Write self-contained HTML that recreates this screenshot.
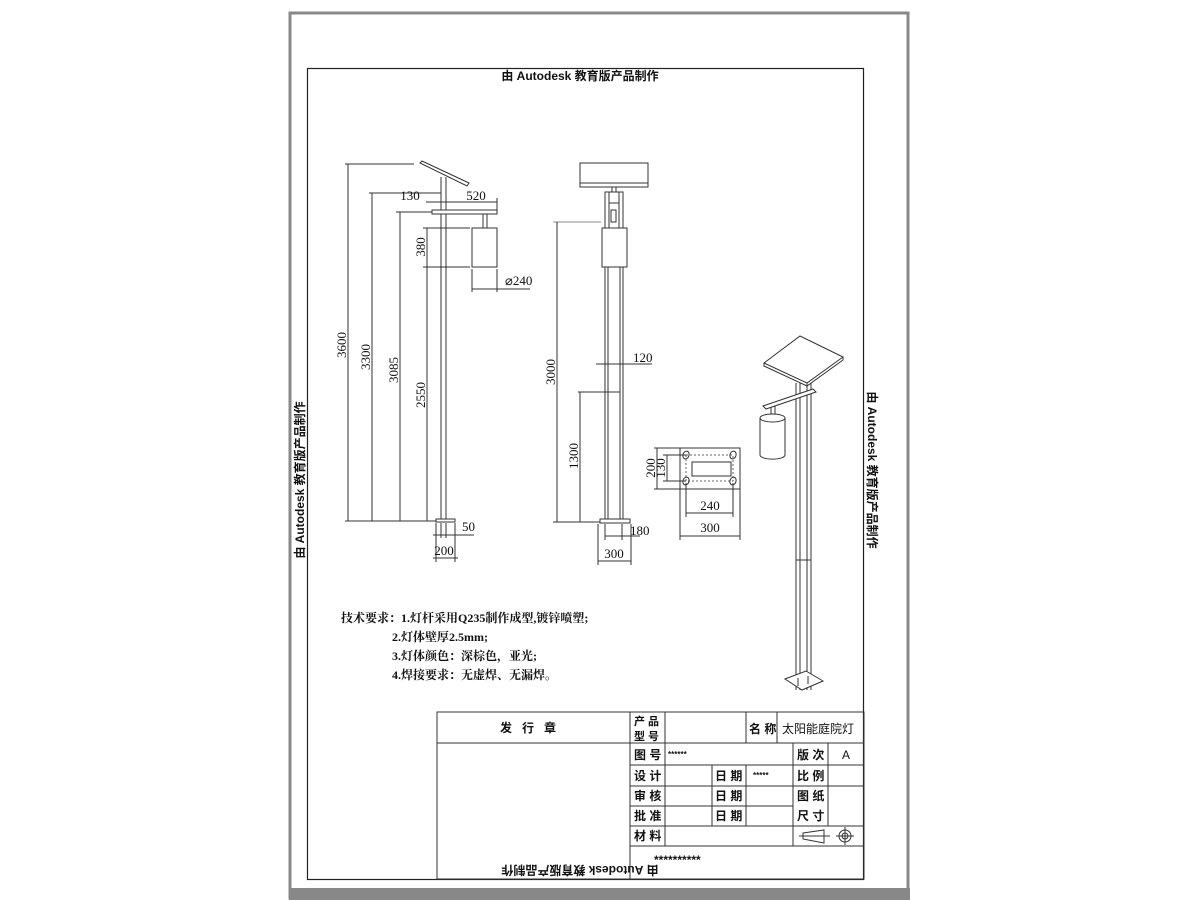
<!DOCTYPE html>
<html><head><meta charset="utf-8"><style>
html,body{margin:0;padding:0;background:#fff;}
svg{display:block;}
text{font-family:"Liberation Sans","Noto Sans CJK SC",sans-serif;fill:#111;}
.s text{font-family:"Liberation Serif","Noto Serif CJK SC",serif;}
</style></head><body>
<svg width="1200" height="900" viewBox="0 0 1200 900" xmlns="http://www.w3.org/2000/svg">
<rect width="1200" height="900" fill="#fff"/>
<rect x="290" y="13" width="618" height="885" fill="none" stroke="#888" stroke-width="3"/>
<rect x="289" y="888" width="621" height="12" fill="#888"/>
<rect x="307.5" y="68.5" width="556" height="811" fill="none" stroke="#222" stroke-width="1.2"/>
<text x="580" y="80" font-size="12" font-weight="bold" text-anchor="middle">由 Autodesk 教育版产品制作</text>
<text transform="translate(304,480) rotate(-90)" font-size="12" font-weight="bold" text-anchor="middle">由 Autodesk 教育版产品制作</text>
<text transform="translate(868,470) rotate(90)" font-size="12" font-weight="bold" text-anchor="middle">由 Autodesk 教育版产品制作</text>
<text transform="translate(580,866) rotate(180)" font-size="12" font-weight="bold" text-anchor="middle">由 Autodesk 教育版产品制作</text>

<g stroke="#333" stroke-width="1" fill="none">
<polygon points="420,163 422,161 469,183 467,186" fill="#fff"/>
<line x1="441" y1="177" x2="441" y2="519"/><line x1="446" y1="177" x2="446" y2="519"/>
<rect x="432" y="210" width="65" height="4" fill="#fff"/>
<line x1="483" y1="214" x2="483" y2="228"/><line x1="487" y1="214" x2="487" y2="228"/>
<rect x="472" y="228" width="25" height="39" fill="#fff"/>
<rect x="436" y="519" width="19" height="3" fill="#fff"/>
<line x1="345" y1="164" x2="414" y2="164"/>
<line x1="348" y1="164" x2="348" y2="521"/>
<line x1="369" y1="193" x2="441" y2="193"/>
<line x1="372" y1="193" x2="372" y2="521"/>
<line x1="396" y1="212" x2="432" y2="212"/>
<line x1="400" y1="212" x2="400" y2="521"/>
<line x1="423" y1="228" x2="470" y2="228"/>
<line x1="423" y1="267" x2="470" y2="267"/>
<line x1="427" y1="228" x2="427" y2="521"/>
<line x1="345" y1="521" x2="436" y2="521"/>
<line x1="426" y1="202" x2="497" y2="202"/>
<line x1="497" y1="198" x2="497" y2="210"/>
<line x1="472" y1="269" x2="472" y2="292"/><line x1="497" y1="269" x2="497" y2="292"/>
<line x1="472" y1="289" x2="530" y2="289"/>
<line x1="436" y1="523" x2="436" y2="562"/><line x1="455" y1="523" x2="455" y2="562"/>
<line x1="441" y1="523" x2="441" y2="538"/><line x1="446" y1="523" x2="446" y2="538"/>
<line x1="433" y1="535" x2="474" y2="535"/>
<line x1="433" y1="558" x2="458" y2="558"/>

<rect x="580" y="163" width="68" height="24" fill="#fff"/>
<line x1="580" y1="183" x2="648" y2="183"/>
<rect x="612" y="187" width="4" height="5"/>
<rect x="605" y="192" width="18" height="36"/>
<line x1="609" y1="192" x2="609" y2="228"/><line x1="619" y1="192" x2="619" y2="228"/>
<line x1="609" y1="203" x2="619" y2="203"/>
<rect x="611" y="210" width="5" height="12"/>
<rect x="602" y="228" width="25" height="39" fill="#fff"/>
<line x1="605" y1="267" x2="605" y2="519"/><line x1="608" y1="267" x2="608" y2="519"/>
<line x1="620" y1="267" x2="620" y2="519"/><line x1="623" y1="267" x2="623" y2="519"/>
<line x1="608" y1="392" x2="620" y2="392"/>
<rect x="600" y="519" width="30" height="4" fill="#fff"/>
<line x1="553" y1="222" x2="601" y2="222" stroke="#888"/>
<line x1="557" y1="222" x2="557" y2="522"/>
<line x1="553" y1="522" x2="600" y2="522"/>
<line x1="578" y1="392" x2="608" y2="392"/>
<line x1="580" y1="392" x2="580" y2="522"/>
<line x1="596" y1="364" x2="652" y2="364"/>
<line x1="598" y1="524" x2="598" y2="565"/><line x1="631" y1="524" x2="631" y2="565"/>
<line x1="605" y1="524" x2="605" y2="540"/><line x1="622" y1="524" x2="622" y2="540"/>
<line x1="605" y1="536" x2="640" y2="536"/>
<line x1="598" y1="561" x2="631" y2="561"/>
<rect x="680" y="448" width="60" height="41"/>
<rect x="692" y="462" width="39" height="14"/>
<rect x="686" y="455" width="47" height="26" stroke-dasharray="2,2" stroke="#666"/>
<ellipse cx="686" cy="455" rx="3" ry="4" transform="rotate(20 686 455)"/>
<ellipse cx="733" cy="455" rx="3" ry="4" transform="rotate(20 733 455)"/>
<ellipse cx="686" cy="481" rx="3" ry="4" transform="rotate(20 686 481)"/>
<ellipse cx="733" cy="481" rx="3" ry="4" transform="rotate(20 733 481)"/>
<line x1="654" y1="448" x2="680" y2="448"/><line x1="654" y1="489" x2="680" y2="489"/>
<line x1="657" y1="448" x2="657" y2="489"/>
<line x1="663" y1="455" x2="686" y2="455"/><line x1="663" y1="481" x2="686" y2="481"/>
<line x1="667" y1="455" x2="667" y2="481"/>
<line x1="686" y1="483" x2="686" y2="517"/><line x1="733" y1="483" x2="733" y2="517"/>
<line x1="686" y1="513" x2="733" y2="513"/>
<line x1="680" y1="489" x2="680" y2="540"/><line x1="740" y1="489" x2="740" y2="540"/>
<line x1="680" y1="536" x2="740" y2="536"/>

<line x1="796" y1="383" x2="796" y2="690"/><line x1="800" y1="383" x2="800" y2="690"/>
<line x1="807" y1="383" x2="807" y2="690"/><line x1="811" y1="383" x2="811" y2="690"/>
<line x1="796" y1="560" x2="811" y2="560"/>
<polygon points="763,406 813,389 816,392 766,409" fill="#fff"/>
<line x1="771" y1="407" x2="771" y2="418"/><line x1="775" y1="406" x2="775" y2="418"/>
<path d="M760,418 L760,455 A12,4 0 0 0 785,455 L785,418" fill="#fff"/>
<ellipse cx="772.5" cy="418" rx="12.5" ry="4" fill="#fff"/>
<polygon points="764,363 800,336 843,357 807,383" fill="#fff"/>
<polyline points="764,363 764,366 807,386 843,360 843,357"/>
<polygon points="785,679 806,671 823,681 802,690" fill="#fff"/>
<line x1="798" y1="678" x2="798" y2="686"/><line x1="808" y1="676" x2="808" y2="684"/>

<rect x="437" y="712" width="427" height="167"/>
<line x1="437" y1="743" x2="864" y2="743"/>
<line x1="630" y1="712" x2="630" y2="879"/>
<line x1="665" y1="712" x2="665" y2="846"/>
<line x1="746" y1="712" x2="746" y2="743"/>
<line x1="777" y1="712" x2="777" y2="743"/>
<line x1="630" y1="765" x2="864" y2="765"/>
<line x1="630" y1="786" x2="864" y2="786"/>
<line x1="630" y1="806" x2="793" y2="806"/>
<line x1="630" y1="826" x2="864" y2="826"/>
<line x1="630" y1="846" x2="864" y2="846"/>
<line x1="793" y1="743" x2="793" y2="846"/>
<line x1="828" y1="743" x2="828" y2="826"/>
<line x1="712" y1="765" x2="712" y2="826"/>
<line x1="746" y1="765" x2="746" y2="826"/>
<polygon points="803,833 824,830 824,843 803,839"/>
<line x1="799" y1="836" x2="830" y2="836"/>
<circle cx="845" cy="836" r="6"/><circle cx="845" cy="836" r="3"/>
<line x1="836" y1="836" x2="854" y2="836"/><line x1="845" y1="827" x2="845" y2="845"/>
</g>

<g class="s" font-size="13">
<text x="410" y="200" text-anchor="middle">130</text>
<text x="476" y="200" text-anchor="middle">520</text>
<text x="505" y="285">⌀240</text>
<text transform="translate(346,345) rotate(-90)" text-anchor="middle">3600</text>
<text transform="translate(370,357) rotate(-90)" text-anchor="middle">3300</text>
<text transform="translate(398,370) rotate(-90)" text-anchor="middle">3085</text>
<text transform="translate(425,395) rotate(-90)" text-anchor="middle">2550</text>
<text transform="translate(425,247) rotate(-90)" text-anchor="middle">380</text>
<text x="462" y="531">50</text>
<text x="444" y="555" text-anchor="middle">200</text>
<text transform="translate(555,372) rotate(-90)" text-anchor="middle">3000</text>
<text transform="translate(578,456) rotate(-90)" text-anchor="middle">1300</text>
<text x="633" y="362">120</text>
<text x="630" y="535">180</text>
<text x="614" y="558" text-anchor="middle">300</text>
<text transform="translate(655,468) rotate(-90)" text-anchor="middle">200</text>
<text transform="translate(665,468) rotate(-90)" text-anchor="middle">130</text>
<text x="710" y="510" text-anchor="middle">240</text>
<text x="710" y="532" text-anchor="middle">300</text>
</g>

<g class="s" font-size="12" font-weight="bold">
<text x="341" y="622">技术要求：1.灯杆采用Q235制作成型,镀锌喷塑;</text>
<text x="392" y="641">2.灯体壁厚2.5mm;</text>
<text x="392" y="660">3.灯体颜色：深棕色，亚光;</text>
<text x="392" y="679">4.焊接要求：无虚焊、无漏焊。</text>
</g>

<g font-size="12" font-weight="bold">
<text x="533" y="732" text-anchor="middle" letter-spacing="10">发行章</text>
<text x="634" y="725" font-size="11">产 品</text>
<text x="634" y="740" font-size="11">型 号</text>
<text x="749" y="733">名 称</text>
<text x="782" y="733" font-weight="normal">太阳能庭院灯</text>
<text x="634" y="759">图 号</text>
<text x="668" y="757" font-size="8">******</text>
<text x="797" y="759">版 次</text>
<text x="846" y="759" font-weight="normal" text-anchor="middle">A</text>
<text x="634" y="780">设 计</text>
<text x="715" y="780">日 期</text>
<text x="753" y="778" font-size="8">*****</text>
<text x="797" y="780">比 例</text>
<text x="634" y="800">审 核</text>
<text x="715" y="800">日 期</text>
<text x="797" y="800">图 纸</text>
<text x="634" y="820">批 准</text>
<text x="715" y="820">日 期</text>
<text x="797" y="820">尺 寸</text>
<text x="634" y="840">材 料</text>
<text x="654" y="864" font-size="12">**********</text>
</g>
</svg>
</body></html>
